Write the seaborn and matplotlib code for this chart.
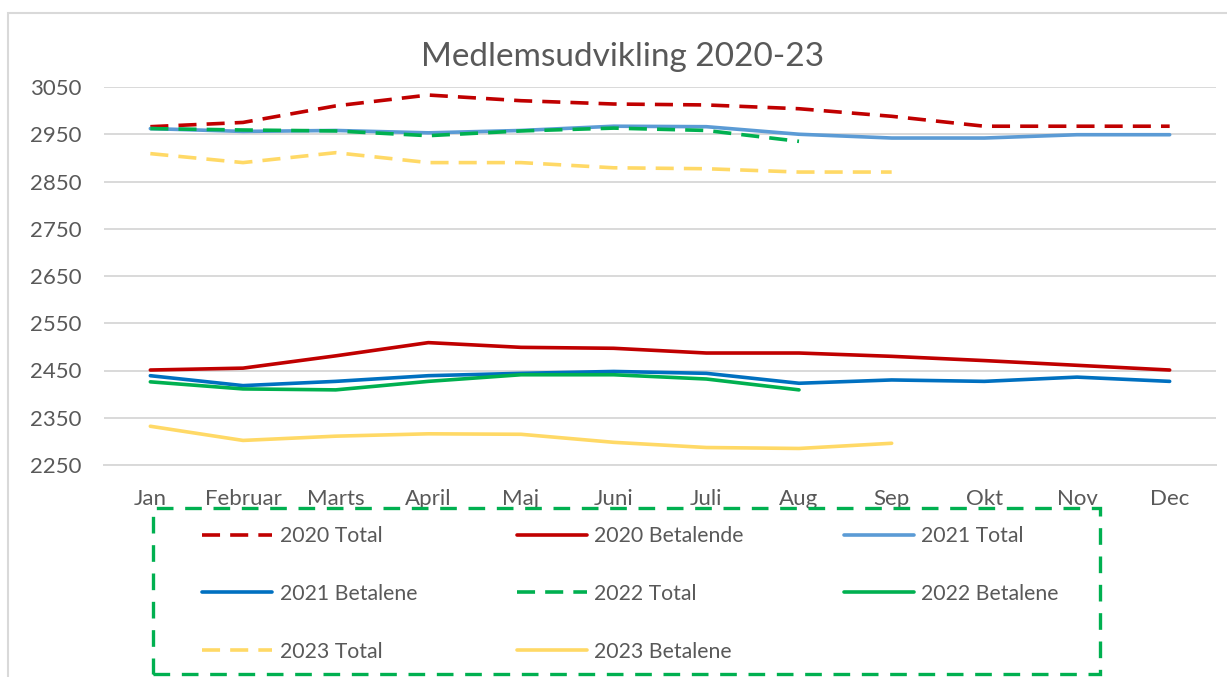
import numpy as np
import pandas as pd
import matplotlib
matplotlib.use("Agg")
import matplotlib.pyplot as plt
from matplotlib.patches import Rectangle
import seaborn as sns

# Maaneder og medlemstal aflaest fra grafen
months = ["Jan", "Februar", "Marts", "April", "Maj", "Juni",
          "Juli", "Aug", "Sep", "Okt", "Nov", "Dec"]

total_2020 = [2966, 2975, 3010, 3033, 3021, 3014, 3012, 3004, 2988, 2967, 2967, 2967]
betal_2020 = [2451, 2455, 2481, 2509, 2499, 2497, 2487, 2487, 2480, 2471, 2461, 2451]
total_2021 = [2962, 2956, 2958, 2953, 2958, 2967, 2966, 2950, 2942, 2942, 2949, 2949]
betal_2021 = [2439, 2418, 2427, 2439, 2444, 2448, 2444, 2423, 2430, 2427, 2436, 2427]
total_2022 = [2962, 2959, 2957, 2947, 2957, 2963, 2958, 2935]
betal_2022 = [2426, 2411, 2409, 2427, 2441, 2441, 2432, 2409]
total_2023 = [2909, 2890, 2911, 2890, 2890, 2879, 2877, 2870, 2870]
betal_2023 = [2332, 2302, 2311, 2316, 2315, 2298, 2287, 2285, 2296]

series = [
    ("2020 Total", total_2020, "#C00000", True),
    ("2020 Betalende", betal_2020, "#C00000", False),
    ("2021 Total", total_2021, "#5B9BD5", False),
    ("2021 Betalene", betal_2021, "#0070C0", False),
    ("2022 Total", total_2022, "#00B050", True),
    ("2022 Betalene", betal_2022, "#00B050", False),
    ("2023 Total", total_2023, "#FFD966", True),
    ("2023 Betalene", betal_2023, "#FFD966", False),
]

sns.set_style("white")
plt.rcParams["font.family"] = ["Lato", "DejaVu Sans"]
text_col = "#595959"
grid_col = "#D9D9D9"

W, H = 1227, 677
fig = plt.figure(figsize=(W / 100, H / 100), dpi=100)
ax = fig.add_axes([104 / W, 1 - 465 / H, (1216 - 104) / W, (465 - 87) / H])

for label, vals, col, dashed in series:
    df = pd.DataFrame({"month": months[:len(vals)], "value": vals})
    sns.lineplot(data=df, x="month", y="value", ax=ax, color=col,
                 linewidth=2.6, label=label, sort=False)
    line = ax.lines[-1]
    line.set_solid_capstyle("round")
    if dashed:
        line.set_dashes((5, 2.8))

ax.set_xlim(-0.5, len(months) - 0.5)
ax.set_ylim(2250, 3050)
ax.set_yticks(np.arange(2250, 3051, 100))
ax.yaxis.grid(True, color=grid_col, linewidth=1.4)
ax.set_axisbelow(True)
for s in ["top", "right", "left"]:
    ax.spines[s].set_visible(False)
ax.spines["bottom"].set_color(grid_col)
ax.spines["bottom"].set_linewidth(1.4)
ax.tick_params(axis="both", length=0, labelsize=16, colors=text_col)
ax.tick_params(axis="x", pad=17)
ax.tick_params(axis="y", pad=16)
ax.set_xlabel("")
ax.set_ylabel("")

fig.text(623 / W, 1 - 57 / H, "Medlemsudvikling 2020-23", ha="center",
         va="center", fontsize=24, color=text_col)

# ydre ramme om diagrammet
fig.patches.append(Rectangle((8 / W, -0.1), 1.2, 1 - 13 / H + 0.1,
                             transform=fig.transFigure, fill=False,
                             edgecolor=grid_col, linewidth=1.5))

# legende i raekkefoelge som Excel (raekkevis)
handles, labels = ax.get_legend_handles_labels()
ax.get_legend().remove()
order = [0, 3, 6, 1, 4, 7, 2, 5]
leg = fig.legend([handles[i] for i in order], [labels[i] for i in order],
                 ncol=3, loc="upper left", bbox_to_anchor=(202 / W, 1 - 526 / H),
                 frameon=False, fontsize=15.3, handlelength=3.3,
                 handletextpad=0.35, columnspacing=4.7, labelspacing=1.78,
                 borderpad=0, borderaxespad=0)
for t in leg.get_texts():
    t.set_color(text_col)

fig.patches.append(Rectangle((153 / W, 1 - 674 / H), (1100 - 153) / W,
                             (674 - 508) / H, transform=fig.transFigure,
                             fill=False, edgecolor="#00B050", linewidth=2.4,
                             linestyle=(0, (5, 3.5))))

fig.savefig("out.png", dpi=100)
